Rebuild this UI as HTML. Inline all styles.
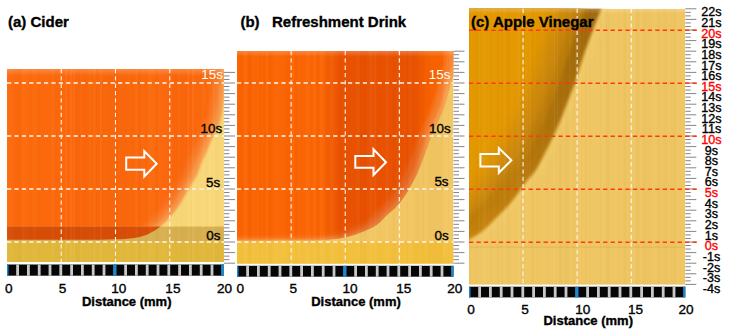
<!DOCTYPE html><html><head><meta charset="utf-8"><style>html,body{margin:0;padding:0;background:#fff;width:730px;height:333px;overflow:hidden}svg{display:block}text{font-family:"Liberation Sans",sans-serif}</style></head><body><svg width="730" height="333" viewBox="0 0 730 333"><defs><filter id="b07" x="-20%" y="-20%" width="140%" height="140%"><feGaussianBlur stdDeviation="0.7"/></filter><filter id="b15" x="-20%" y="-20%" width="140%" height="140%"><feGaussianBlur stdDeviation="1.5"/></filter><filter id="b8" x="-20%" y="-20%" width="140%" height="140%"><feGaussianBlur stdDeviation="8"/></filter><filter id="b2" x="-20%" y="-20%" width="140%" height="140%"><feGaussianBlur stdDeviation="2"/></filter><filter id="b1" x="-20%" y="-20%" width="140%" height="140%"><feGaussianBlur stdDeviation="1"/></filter><filter id="b3" x="-20%" y="-20%" width="140%" height="140%"><feGaussianBlur stdDeviation="3"/></filter><filter id="b5" x="-20%" y="-20%" width="140%" height="140%"><feGaussianBlur stdDeviation="5"/></filter><clipPath id="ca"><rect x="7" y="69" width="217" height="193"/></clipPath><clipPath id="cb"><rect x="237" y="51" width="216.5" height="212.75"/></clipPath><clipPath id="cc"><rect x="469" y="8.8" width="216.29999999999995" height="276.0"/></clipPath></defs><defs><clipPath id="oa"><path d="M225.00,90.00 C224.83,91.67 224.42,96.67 224.00,100.00 C223.58,103.33 223.17,106.33 222.50,110.00 C221.83,113.67 221.67,117.33 220.00,122.00 C218.33,126.67 214.75,133.00 212.50,138.00 C210.25,143.00 208.33,147.83 206.50,152.00 C204.67,156.17 203.25,158.83 201.50,163.00 C199.75,167.17 198.25,172.50 196.00,177.00 C193.75,181.50 190.67,185.50 188.00,190.00 C185.33,194.50 183.00,199.50 180.00,204.00 C177.00,208.50 173.00,213.50 170.00,217.00 C167.00,220.50 164.67,222.67 162.00,225.00 C159.33,227.33 157.17,229.17 154.00,231.00 C150.83,232.83 147.50,234.70 143.00,236.00 C138.50,237.30 134.17,238.18 127.00,238.80 C119.83,239.42 111.17,239.53 100.00,239.70 C88.83,239.87 75.50,239.78 60.00,239.80 C44.50,239.82 15.83,239.80 7.00,239.80 L0,239.8 L0,60 L230,60 Z"/></clipPath><linearGradient id="gda" gradientUnits="userSpaceOnUse" x1="7" y1="0" x2="224" y2="0"><stop offset="0" stop-color="#FFB070" stop-opacity="0.0"/><stop offset="0.2" stop-color="#FFB070" stop-opacity="0.0"/><stop offset="0.3" stop-color="#D84000" stop-opacity="0.0"/><stop offset="0.55" stop-color="#D84000" stop-opacity="0.08"/><stop offset="0.8" stop-color="#D84000" stop-opacity="0.03"/><stop offset="1" stop-color="#D84000" stop-opacity="0"/></linearGradient><linearGradient id="gtop" x1="0" y1="0" x2="0" y2="1"><stop offset="0" stop-color="#fff" stop-opacity="0.22"/><stop offset="1" stop-color="#fff" stop-opacity="0"/></linearGradient></defs><g clip-path="url(#ca)"><rect x="7" y="69" width="217" height="193" fill="#F8D878"/><path d="M225.00,90.00 C224.83,91.67 224.42,96.67 224.00,100.00 C223.58,103.33 223.17,106.33 222.50,110.00 C221.83,113.67 221.67,117.33 220.00,122.00 C218.33,126.67 214.75,133.00 212.50,138.00 C210.25,143.00 208.33,147.83 206.50,152.00 C204.67,156.17 203.25,158.83 201.50,163.00 C199.75,167.17 198.25,172.50 196.00,177.00 C193.75,181.50 190.67,185.50 188.00,190.00 C185.33,194.50 183.00,199.50 180.00,204.00 C177.00,208.50 173.00,213.50 170.00,217.00 C167.00,220.50 164.67,222.67 162.00,225.00 C159.33,227.33 157.17,229.17 154.00,231.00 C150.83,232.83 147.50,234.70 143.00,236.00 C138.50,237.30 134.17,238.18 127.00,238.80 C119.83,239.42 111.17,239.53 100.00,239.70 C88.83,239.87 75.50,239.78 60.00,239.80 C44.50,239.82 15.83,239.80 7.00,239.80 L0,239.8 L0,60 L230,60 Z" fill="#F9A050" filter="url(#b1)"/><g transform="translate(-5,-1.5)"><path d="M225.00,90.00 C224.83,91.67 224.42,96.67 224.00,100.00 C223.58,103.33 223.17,106.33 222.50,110.00 C221.83,113.67 221.67,117.33 220.00,122.00 C218.33,126.67 214.75,133.00 212.50,138.00 C210.25,143.00 208.33,147.83 206.50,152.00 C204.67,156.17 203.25,158.83 201.50,163.00 C199.75,167.17 198.25,172.50 196.00,177.00 C193.75,181.50 190.67,185.50 188.00,190.00 C185.33,194.50 183.00,199.50 180.00,204.00 C177.00,208.50 173.00,213.50 170.00,217.00 C167.00,220.50 164.67,222.67 162.00,225.00 C159.33,227.33 157.17,229.17 154.00,231.00 C150.83,232.83 147.50,234.70 143.00,236.00 C138.50,237.30 134.17,238.18 127.00,238.80 C119.83,239.42 111.17,239.53 100.00,239.70 C88.83,239.87 75.50,239.78 60.00,239.80 C44.50,239.82 15.83,239.80 7.00,239.80 L0,239.8 L0,60 L230,60 Z" fill="#F98434" filter="url(#b2)"/></g><g transform="translate(-11,-3)"><path d="M225.00,90.00 C224.83,91.67 224.42,96.67 224.00,100.00 C223.58,103.33 223.17,106.33 222.50,110.00 C221.83,113.67 221.67,117.33 220.00,122.00 C218.33,126.67 214.75,133.00 212.50,138.00 C210.25,143.00 208.33,147.83 206.50,152.00 C204.67,156.17 203.25,158.83 201.50,163.00 C199.75,167.17 198.25,172.50 196.00,177.00 C193.75,181.50 190.67,185.50 188.00,190.00 C185.33,194.50 183.00,199.50 180.00,204.00 C177.00,208.50 173.00,213.50 170.00,217.00 C167.00,220.50 164.67,222.67 162.00,225.00 C159.33,227.33 157.17,229.17 154.00,231.00 C150.83,232.83 147.50,234.70 143.00,236.00 C138.50,237.30 134.17,238.18 127.00,238.80 C119.83,239.42 111.17,239.53 100.00,239.70 C88.83,239.87 75.50,239.78 60.00,239.80 C44.50,239.82 15.83,239.80 7.00,239.80 L0,239.8 L0,60 L230,60 Z" fill="#FC6A10" filter="url(#b3)"/></g><g clip-path="url(#oa)"><g transform="translate(-11,-3)"><rect x="7" y="69" width="237" height="193" fill="url(#gda)" filter="url(#b3)"/></g></g><rect x="7" y="69" width="217" height="7" fill="url(#gtop)"/><rect x="7" y="226.6" width="217" height="14.6" fill="#D8B050"/><rect x="7" y="226.6" width="217" height="14.6" fill="#D84E08" clip-path="url(#oa)"/><rect x="7" y="241.2" width="217" height="20.80000000000001" fill="#E2B83C"/><rect x="7.0" y="69" width="1.5" height="193" fill="#fff" opacity="0.040"/><rect x="8.5" y="69" width="2" height="193" fill="#fff" opacity="0.014"/><rect x="10.5" y="69" width="1" height="193" fill="#fff" opacity="0.029"/><rect x="11.5" y="69" width="1" height="193" fill="#000" opacity="0.005"/><rect x="12.5" y="69" width="1" height="193" fill="#fff" opacity="0.037"/><rect x="13.5" y="69" width="1" height="193" fill="#000" opacity="0.017"/><rect x="14.5" y="69" width="2" height="193" fill="#000" opacity="0.003"/><rect x="16.5" y="69" width="1" height="193" fill="#000" opacity="0.015"/><rect x="17.5" y="69" width="2" height="193" fill="#000" opacity="0.016"/><rect x="19.5" y="69" width="2" height="193" fill="#000" opacity="0.014"/><rect x="21.5" y="69" width="1" height="193" fill="#fff" opacity="0.012"/><rect x="22.5" y="69" width="2" height="193" fill="#fff" opacity="0.040"/><rect x="24.5" y="69" width="2" height="193" fill="#fff" opacity="0.008"/><rect x="26.5" y="69" width="1" height="193" fill="#fff" opacity="0.043"/><rect x="27.5" y="69" width="1" height="193" fill="#fff" opacity="0.005"/><rect x="28.5" y="69" width="1" height="193" fill="#000" opacity="0.008"/><rect x="29.5" y="69" width="1" height="193" fill="#fff" opacity="0.004"/><rect x="30.5" y="69" width="2" height="193" fill="#000" opacity="0.007"/><rect x="32.5" y="69" width="4" height="193" fill="#fff" opacity="0.016"/><rect x="36.5" y="69" width="1" height="193" fill="#fff" opacity="0.007"/><rect x="37.5" y="69" width="3" height="193" fill="#000" opacity="0.011"/><rect x="40.5" y="69" width="1" height="193" fill="#fff" opacity="0.004"/><rect x="41.5" y="69" width="1" height="193" fill="#fff" opacity="0.006"/><rect x="42.5" y="69" width="2" height="193" fill="#000" opacity="0.011"/><rect x="44.5" y="69" width="3" height="193" fill="#fff" opacity="0.003"/><rect x="47.5" y="69" width="4" height="193" fill="#000" opacity="0.007"/><rect x="51.5" y="69" width="2" height="193" fill="#fff" opacity="0.038"/><rect x="53.5" y="69" width="1.5" height="193" fill="#000" opacity="0.007"/><rect x="55.0" y="69" width="4" height="193" fill="#000" opacity="0.012"/><rect x="59.0" y="69" width="4" height="193" fill="#000" opacity="0.009"/><rect x="63.0" y="69" width="2" height="193" fill="#000" opacity="0.007"/><rect x="65.0" y="69" width="2" height="193" fill="#fff" opacity="0.034"/><rect x="67.0" y="69" width="3" height="193" fill="#000" opacity="0.002"/><rect x="70.0" y="69" width="2" height="193" fill="#fff" opacity="0.043"/><rect x="72.0" y="69" width="1" height="193" fill="#fff" opacity="0.001"/><rect x="73.0" y="69" width="1" height="193" fill="#fff" opacity="0.023"/><rect x="74.0" y="69" width="1" height="193" fill="#fff" opacity="0.039"/><rect x="75.0" y="69" width="2" height="193" fill="#000" opacity="0.017"/><rect x="77.0" y="69" width="3" height="193" fill="#000" opacity="0.015"/><rect x="80.0" y="69" width="2" height="193" fill="#fff" opacity="0.007"/><rect x="82.0" y="69" width="4" height="193" fill="#000" opacity="0.007"/><rect x="86.0" y="69" width="3" height="193" fill="#000" opacity="0.005"/><rect x="89.0" y="69" width="2" height="193" fill="#fff" opacity="0.007"/><rect x="91.0" y="69" width="2" height="193" fill="#000" opacity="0.016"/><rect x="93.0" y="69" width="1" height="193" fill="#fff" opacity="0.040"/><rect x="94.0" y="69" width="2" height="193" fill="#fff" opacity="0.018"/><rect x="96.0" y="69" width="1" height="193" fill="#000" opacity="0.016"/><rect x="97.0" y="69" width="3" height="193" fill="#000" opacity="0.007"/><rect x="100.0" y="69" width="2" height="193" fill="#fff" opacity="0.044"/><rect x="102.0" y="69" width="4" height="193" fill="#000" opacity="0.002"/><rect x="106.0" y="69" width="3" height="193" fill="#000" opacity="0.004"/><rect x="109.0" y="69" width="3" height="193" fill="#000" opacity="0.006"/><rect x="112.0" y="69" width="2" height="193" fill="#000" opacity="0.005"/><rect x="114.0" y="69" width="2" height="193" fill="#000" opacity="0.014"/><rect x="116.0" y="69" width="1" height="193" fill="#000" opacity="0.010"/><rect x="117.0" y="69" width="1.5" height="193" fill="#000" opacity="0.013"/><rect x="118.5" y="69" width="1" height="193" fill="#000" opacity="0.004"/><rect x="119.5" y="69" width="4" height="193" fill="#000" opacity="0.000"/><rect x="123.5" y="69" width="1" height="193" fill="#000" opacity="0.002"/><rect x="124.5" y="69" width="2" height="193" fill="#000" opacity="0.008"/><rect x="126.5" y="69" width="1" height="193" fill="#fff" opacity="0.029"/><rect x="127.5" y="69" width="4" height="193" fill="#fff" opacity="0.005"/><rect x="131.5" y="69" width="3" height="193" fill="#000" opacity="0.003"/><rect x="134.5" y="69" width="1.5" height="193" fill="#fff" opacity="0.016"/><rect x="136.0" y="69" width="2" height="193" fill="#fff" opacity="0.041"/><rect x="138.0" y="69" width="1" height="193" fill="#000" opacity="0.015"/><rect x="139.0" y="69" width="1" height="193" fill="#000" opacity="0.010"/><rect x="140.0" y="69" width="1" height="193" fill="#000" opacity="0.018"/><rect x="141.0" y="69" width="4" height="193" fill="#fff" opacity="0.008"/><rect x="145.0" y="69" width="1.5" height="193" fill="#000" opacity="0.008"/><rect x="146.5" y="69" width="1" height="193" fill="#000" opacity="0.003"/><rect x="147.5" y="69" width="1.5" height="193" fill="#fff" opacity="0.010"/><rect x="149.0" y="69" width="1.5" height="193" fill="#fff" opacity="0.041"/><rect x="150.5" y="69" width="3" height="193" fill="#fff" opacity="0.032"/><rect x="153.5" y="69" width="2" height="193" fill="#fff" opacity="0.014"/><rect x="155.5" y="69" width="3" height="193" fill="#000" opacity="0.016"/><rect x="158.5" y="69" width="4" height="193" fill="#fff" opacity="0.025"/><rect x="162.5" y="69" width="4" height="193" fill="#fff" opacity="0.016"/><rect x="166.5" y="69" width="2" height="193" fill="#000" opacity="0.004"/><rect x="168.5" y="69" width="2" height="193" fill="#000" opacity="0.004"/><rect x="170.5" y="69" width="2" height="193" fill="#fff" opacity="0.012"/><rect x="172.5" y="69" width="1" height="193" fill="#000" opacity="0.011"/><rect x="173.5" y="69" width="1" height="193" fill="#000" opacity="0.002"/><rect x="174.5" y="69" width="1" height="193" fill="#000" opacity="0.006"/><rect x="175.5" y="69" width="1" height="193" fill="#000" opacity="0.014"/><rect x="176.5" y="69" width="2" height="193" fill="#000" opacity="0.013"/><rect x="178.5" y="69" width="1" height="193" fill="#fff" opacity="0.040"/><rect x="179.5" y="69" width="2" height="193" fill="#000" opacity="0.017"/><rect x="181.5" y="69" width="4" height="193" fill="#000" opacity="0.011"/><rect x="185.5" y="69" width="2" height="193" fill="#000" opacity="0.013"/><rect x="187.5" y="69" width="1.5" height="193" fill="#fff" opacity="0.041"/><rect x="189.0" y="69" width="2" height="193" fill="#000" opacity="0.005"/><rect x="191.0" y="69" width="1" height="193" fill="#000" opacity="0.014"/><rect x="192.0" y="69" width="2" height="193" fill="#fff" opacity="0.044"/><rect x="194.0" y="69" width="2" height="193" fill="#000" opacity="0.001"/><rect x="196.0" y="69" width="1.5" height="193" fill="#000" opacity="0.015"/><rect x="197.5" y="69" width="1" height="193" fill="#fff" opacity="0.022"/><rect x="198.5" y="69" width="3" height="193" fill="#000" opacity="0.008"/><rect x="201.5" y="69" width="4" height="193" fill="#fff" opacity="0.017"/><rect x="205.5" y="69" width="2" height="193" fill="#000" opacity="0.017"/><rect x="207.5" y="69" width="2" height="193" fill="#000" opacity="0.005"/><rect x="209.5" y="69" width="3" height="193" fill="#fff" opacity="0.004"/><rect x="212.5" y="69" width="1" height="193" fill="#fff" opacity="0.023"/><rect x="213.5" y="69" width="1.5" height="193" fill="#fff" opacity="0.043"/><rect x="215.0" y="69" width="4" height="193" fill="#000" opacity="0.015"/><rect x="219.0" y="69" width="4" height="193" fill="#000" opacity="0.009"/><rect x="223.0" y="69" width="1.5" height="193" fill="#fff" opacity="0.037"/></g><defs><clipPath id="ob"><path d="M456.00,70.00 C455.33,71.67 453.83,74.17 452.00,80.00 C450.17,85.83 447.33,98.00 445.00,105.00 C442.67,112.00 440.17,117.00 438.00,122.00 C435.83,127.00 433.75,130.83 432.00,135.00 C430.25,139.17 429.08,142.75 427.50,147.00 C425.92,151.25 424.25,156.00 422.50,160.50 C420.75,165.00 419.08,169.48 417.00,174.00 C414.92,178.52 412.50,183.27 410.00,187.60 C407.50,191.93 404.67,196.43 402.00,200.00 C399.33,203.57 396.67,206.33 394.00,209.00 C391.33,211.67 388.67,213.50 386.00,216.00 C383.33,218.50 381.33,221.58 378.00,224.00 C374.67,226.42 370.67,228.45 366.00,230.50 C361.33,232.55 355.50,234.83 350.00,236.30 C344.50,237.77 339.67,238.63 333.00,239.30 C326.33,239.97 326.00,240.12 310.00,240.30 C294.00,240.48 250.33,240.38 237.00,240.40 C223.67,240.42 231.17,240.40 230.00,240.40 L230,40 L460,40 Z"/></clipPath><linearGradient id="gdb" gradientUnits="userSpaceOnUse" x1="237" y1="0" x2="453.5" y2="0"><stop offset="0" stop-color="#C03000" stop-opacity="0"/><stop offset="0.44" stop-color="#C03000" stop-opacity="0"/><stop offset="0.53" stop-color="#C02800" stop-opacity="0.3"/><stop offset="0.86" stop-color="#C02800" stop-opacity="0.3"/><stop offset="0.95" stop-color="#C03000" stop-opacity="0"/></linearGradient></defs><g clip-path="url(#cb)"><rect x="237" y="51" width="216.5" height="212.75" fill="#F2C662"/><path d="M456.00,70.00 C455.33,71.67 453.83,74.17 452.00,80.00 C450.17,85.83 447.33,98.00 445.00,105.00 C442.67,112.00 440.17,117.00 438.00,122.00 C435.83,127.00 433.75,130.83 432.00,135.00 C430.25,139.17 429.08,142.75 427.50,147.00 C425.92,151.25 424.25,156.00 422.50,160.50 C420.75,165.00 419.08,169.48 417.00,174.00 C414.92,178.52 412.50,183.27 410.00,187.60 C407.50,191.93 404.67,196.43 402.00,200.00 C399.33,203.57 396.67,206.33 394.00,209.00 C391.33,211.67 388.67,213.50 386.00,216.00 C383.33,218.50 381.33,221.58 378.00,224.00 C374.67,226.42 370.67,228.45 366.00,230.50 C361.33,232.55 355.50,234.83 350.00,236.30 C344.50,237.77 339.67,238.63 333.00,239.30 C326.33,239.97 326.00,240.12 310.00,240.30 C294.00,240.48 250.33,240.38 237.00,240.40 C223.67,240.42 231.17,240.40 230.00,240.40 L230,40 L460,40 Z" fill="#F8A050" filter="url(#b07)"/><g transform="translate(-4,-1.2)"><path d="M456.00,70.00 C455.33,71.67 453.83,74.17 452.00,80.00 C450.17,85.83 447.33,98.00 445.00,105.00 C442.67,112.00 440.17,117.00 438.00,122.00 C435.83,127.00 433.75,130.83 432.00,135.00 C430.25,139.17 429.08,142.75 427.50,147.00 C425.92,151.25 424.25,156.00 422.50,160.50 C420.75,165.00 419.08,169.48 417.00,174.00 C414.92,178.52 412.50,183.27 410.00,187.60 C407.50,191.93 404.67,196.43 402.00,200.00 C399.33,203.57 396.67,206.33 394.00,209.00 C391.33,211.67 388.67,213.50 386.00,216.00 C383.33,218.50 381.33,221.58 378.00,224.00 C374.67,226.42 370.67,228.45 366.00,230.50 C361.33,232.55 355.50,234.83 350.00,236.30 C344.50,237.77 339.67,238.63 333.00,239.30 C326.33,239.97 326.00,240.12 310.00,240.30 C294.00,240.48 250.33,240.38 237.00,240.40 C223.67,240.42 231.17,240.40 230.00,240.40 L230,40 L460,40 Z" fill="#F8802E" filter="url(#b15)"/></g><g transform="translate(-11,-2.5)"><path d="M456.00,70.00 C455.33,71.67 453.83,74.17 452.00,80.00 C450.17,85.83 447.33,98.00 445.00,105.00 C442.67,112.00 440.17,117.00 438.00,122.00 C435.83,127.00 433.75,130.83 432.00,135.00 C430.25,139.17 429.08,142.75 427.50,147.00 C425.92,151.25 424.25,156.00 422.50,160.50 C420.75,165.00 419.08,169.48 417.00,174.00 C414.92,178.52 412.50,183.27 410.00,187.60 C407.50,191.93 404.67,196.43 402.00,200.00 C399.33,203.57 396.67,206.33 394.00,209.00 C391.33,211.67 388.67,213.50 386.00,216.00 C383.33,218.50 381.33,221.58 378.00,224.00 C374.67,226.42 370.67,228.45 366.00,230.50 C361.33,232.55 355.50,234.83 350.00,236.30 C344.50,237.77 339.67,238.63 333.00,239.30 C326.33,239.97 326.00,240.12 310.00,240.30 C294.00,240.48 250.33,240.38 237.00,240.40 C223.67,240.42 231.17,240.40 230.00,240.40 L230,40 L460,40 Z" fill="#FA6404" filter="url(#b2)"/></g><g clip-path="url(#ob)"><g transform="translate(-11,-2.5)"><rect x="237" y="51" width="236.5" height="212.75" fill="url(#gdb)"/></g></g><rect x="237" y="241.2" width="216.5" height="22.55000000000001" fill="#F3C03C"/><rect x="237" y="51" width="216.5" height="6" fill="url(#gtop)"/><rect x="237.0" y="51" width="1.5" height="212.75" fill="#fff" opacity="0.024"/><rect x="238.5" y="51" width="2" height="212.75" fill="#fff" opacity="0.004"/><rect x="240.5" y="51" width="2" height="212.75" fill="#000" opacity="0.006"/><rect x="242.5" y="51" width="1" height="212.75" fill="#fff" opacity="0.010"/><rect x="243.5" y="51" width="4" height="212.75" fill="#fff" opacity="0.044"/><rect x="247.5" y="51" width="4" height="212.75" fill="#000" opacity="0.011"/><rect x="251.5" y="51" width="1" height="212.75" fill="#fff" opacity="0.029"/><rect x="252.5" y="51" width="3" height="212.75" fill="#fff" opacity="0.027"/><rect x="255.5" y="51" width="1" height="212.75" fill="#fff" opacity="0.002"/><rect x="256.5" y="51" width="1.5" height="212.75" fill="#fff" opacity="0.021"/><rect x="258.0" y="51" width="1" height="212.75" fill="#fff" opacity="0.026"/><rect x="259.0" y="51" width="2" height="212.75" fill="#000" opacity="0.009"/><rect x="261.0" y="51" width="3" height="212.75" fill="#fff" opacity="0.009"/><rect x="264.0" y="51" width="1.5" height="212.75" fill="#000" opacity="0.002"/><rect x="265.5" y="51" width="3" height="212.75" fill="#fff" opacity="0.044"/><rect x="268.5" y="51" width="1.5" height="212.75" fill="#000" opacity="0.015"/><rect x="270.0" y="51" width="1" height="212.75" fill="#000" opacity="0.010"/><rect x="271.0" y="51" width="1" height="212.75" fill="#000" opacity="0.006"/><rect x="272.0" y="51" width="2" height="212.75" fill="#fff" opacity="0.011"/><rect x="274.0" y="51" width="2" height="212.75" fill="#fff" opacity="0.031"/><rect x="276.0" y="51" width="2" height="212.75" fill="#fff" opacity="0.037"/><rect x="278.0" y="51" width="1.5" height="212.75" fill="#fff" opacity="0.027"/><rect x="279.5" y="51" width="1" height="212.75" fill="#fff" opacity="0.030"/><rect x="280.5" y="51" width="1" height="212.75" fill="#fff" opacity="0.037"/><rect x="281.5" y="51" width="4" height="212.75" fill="#fff" opacity="0.019"/><rect x="285.5" y="51" width="1" height="212.75" fill="#000" opacity="0.001"/><rect x="286.5" y="51" width="1" height="212.75" fill="#000" opacity="0.002"/><rect x="287.5" y="51" width="3" height="212.75" fill="#000" opacity="0.006"/><rect x="290.5" y="51" width="4" height="212.75" fill="#fff" opacity="0.040"/><rect x="294.5" y="51" width="3" height="212.75" fill="#000" opacity="0.004"/><rect x="297.5" y="51" width="2" height="212.75" fill="#fff" opacity="0.022"/><rect x="299.5" y="51" width="1" height="212.75" fill="#fff" opacity="0.020"/><rect x="300.5" y="51" width="1" height="212.75" fill="#fff" opacity="0.044"/><rect x="301.5" y="51" width="1" height="212.75" fill="#000" opacity="0.013"/><rect x="302.5" y="51" width="2" height="212.75" fill="#fff" opacity="0.028"/><rect x="304.5" y="51" width="1" height="212.75" fill="#fff" opacity="0.010"/><rect x="305.5" y="51" width="2" height="212.75" fill="#fff" opacity="0.043"/><rect x="307.5" y="51" width="3" height="212.75" fill="#fff" opacity="0.039"/><rect x="310.5" y="51" width="1" height="212.75" fill="#fff" opacity="0.004"/><rect x="311.5" y="51" width="1" height="212.75" fill="#000" opacity="0.017"/><rect x="312.5" y="51" width="4" height="212.75" fill="#fff" opacity="0.042"/><rect x="316.5" y="51" width="3" height="212.75" fill="#000" opacity="0.014"/><rect x="319.5" y="51" width="3" height="212.75" fill="#fff" opacity="0.039"/><rect x="322.5" y="51" width="2" height="212.75" fill="#fff" opacity="0.044"/><rect x="324.5" y="51" width="1" height="212.75" fill="#fff" opacity="0.029"/><rect x="325.5" y="51" width="1" height="212.75" fill="#000" opacity="0.017"/><rect x="326.5" y="51" width="1" height="212.75" fill="#000" opacity="0.007"/><rect x="327.5" y="51" width="1" height="212.75" fill="#fff" opacity="0.024"/><rect x="328.5" y="51" width="1.5" height="212.75" fill="#000" opacity="0.009"/><rect x="330.0" y="51" width="2" height="212.75" fill="#fff" opacity="0.030"/><rect x="332.0" y="51" width="1" height="212.75" fill="#fff" opacity="0.037"/><rect x="333.0" y="51" width="1.5" height="212.75" fill="#fff" opacity="0.036"/><rect x="334.5" y="51" width="3" height="212.75" fill="#fff" opacity="0.008"/><rect x="337.5" y="51" width="2" height="212.75" fill="#000" opacity="0.003"/><rect x="339.5" y="51" width="2" height="212.75" fill="#000" opacity="0.013"/><rect x="341.5" y="51" width="1" height="212.75" fill="#fff" opacity="0.002"/><rect x="342.5" y="51" width="1" height="212.75" fill="#fff" opacity="0.034"/><rect x="343.5" y="51" width="4" height="212.75" fill="#000" opacity="0.011"/><rect x="347.5" y="51" width="1" height="212.75" fill="#fff" opacity="0.025"/><rect x="348.5" y="51" width="1" height="212.75" fill="#000" opacity="0.012"/><rect x="349.5" y="51" width="2" height="212.75" fill="#fff" opacity="0.011"/><rect x="351.5" y="51" width="1" height="212.75" fill="#fff" opacity="0.005"/><rect x="352.5" y="51" width="1.5" height="212.75" fill="#fff" opacity="0.016"/><rect x="354.0" y="51" width="2" height="212.75" fill="#fff" opacity="0.005"/><rect x="356.0" y="51" width="4" height="212.75" fill="#fff" opacity="0.025"/><rect x="360.0" y="51" width="2" height="212.75" fill="#000" opacity="0.016"/><rect x="362.0" y="51" width="1" height="212.75" fill="#000" opacity="0.008"/><rect x="363.0" y="51" width="4" height="212.75" fill="#000" opacity="0.014"/><rect x="367.0" y="51" width="2" height="212.75" fill="#fff" opacity="0.006"/><rect x="369.0" y="51" width="4" height="212.75" fill="#fff" opacity="0.035"/><rect x="373.0" y="51" width="1" height="212.75" fill="#000" opacity="0.002"/><rect x="374.0" y="51" width="2" height="212.75" fill="#fff" opacity="0.043"/><rect x="376.0" y="51" width="2" height="212.75" fill="#fff" opacity="0.001"/><rect x="378.0" y="51" width="3" height="212.75" fill="#000" opacity="0.008"/><rect x="381.0" y="51" width="2" height="212.75" fill="#fff" opacity="0.003"/><rect x="383.0" y="51" width="2" height="212.75" fill="#fff" opacity="0.001"/><rect x="385.0" y="51" width="1" height="212.75" fill="#fff" opacity="0.018"/><rect x="386.0" y="51" width="1.5" height="212.75" fill="#fff" opacity="0.038"/><rect x="387.5" y="51" width="1" height="212.75" fill="#fff" opacity="0.031"/><rect x="388.5" y="51" width="1" height="212.75" fill="#000" opacity="0.003"/><rect x="389.5" y="51" width="2" height="212.75" fill="#000" opacity="0.002"/><rect x="391.5" y="51" width="1" height="212.75" fill="#fff" opacity="0.015"/><rect x="392.5" y="51" width="2" height="212.75" fill="#000" opacity="0.015"/><rect x="394.5" y="51" width="3" height="212.75" fill="#000" opacity="0.007"/><rect x="397.5" y="51" width="1" height="212.75" fill="#fff" opacity="0.036"/><rect x="398.5" y="51" width="1" height="212.75" fill="#fff" opacity="0.040"/><rect x="399.5" y="51" width="3" height="212.75" fill="#fff" opacity="0.014"/><rect x="402.5" y="51" width="1" height="212.75" fill="#000" opacity="0.009"/><rect x="403.5" y="51" width="1" height="212.75" fill="#fff" opacity="0.042"/><rect x="404.5" y="51" width="1" height="212.75" fill="#fff" opacity="0.022"/><rect x="405.5" y="51" width="1" height="212.75" fill="#000" opacity="0.004"/><rect x="406.5" y="51" width="2" height="212.75" fill="#000" opacity="0.012"/><rect x="408.5" y="51" width="3" height="212.75" fill="#fff" opacity="0.030"/><rect x="411.5" y="51" width="1" height="212.75" fill="#fff" opacity="0.019"/><rect x="412.5" y="51" width="2" height="212.75" fill="#000" opacity="0.003"/><rect x="414.5" y="51" width="2" height="212.75" fill="#000" opacity="0.011"/><rect x="416.5" y="51" width="1.5" height="212.75" fill="#000" opacity="0.015"/><rect x="418.0" y="51" width="1.5" height="212.75" fill="#000" opacity="0.017"/><rect x="419.5" y="51" width="2" height="212.75" fill="#000" opacity="0.001"/><rect x="421.5" y="51" width="3" height="212.75" fill="#000" opacity="0.017"/><rect x="424.5" y="51" width="1.5" height="212.75" fill="#fff" opacity="0.002"/><rect x="426.0" y="51" width="1.5" height="212.75" fill="#fff" opacity="0.001"/><rect x="427.5" y="51" width="1" height="212.75" fill="#000" opacity="0.014"/><rect x="428.5" y="51" width="4" height="212.75" fill="#000" opacity="0.010"/><rect x="432.5" y="51" width="1" height="212.75" fill="#000" opacity="0.015"/><rect x="433.5" y="51" width="1.5" height="212.75" fill="#000" opacity="0.017"/><rect x="435.0" y="51" width="4" height="212.75" fill="#000" opacity="0.011"/><rect x="439.0" y="51" width="4" height="212.75" fill="#000" opacity="0.013"/><rect x="443.0" y="51" width="2" height="212.75" fill="#fff" opacity="0.031"/><rect x="445.0" y="51" width="3" height="212.75" fill="#fff" opacity="0.029"/><rect x="448.0" y="51" width="1.5" height="212.75" fill="#000" opacity="0.003"/><rect x="449.5" y="51" width="2" height="212.75" fill="#fff" opacity="0.038"/><rect x="451.5" y="51" width="2" height="212.75" fill="#000" opacity="0.000"/></g><defs><linearGradient id="gdc" gradientUnits="userSpaceOnUse" x1="0" y1="9" x2="0" y2="240"><stop offset="0" stop-color="#A06808"/><stop offset="0.55" stop-color="#B07408"/><stop offset="1" stop-color="#C88408"/></linearGradient></defs><g clip-path="url(#cc)"><rect x="469" y="8.8" width="216.29999999999995" height="276.0" fill="#EFC662"/><g transform="translate(4,1.2)"><path d="M612.00,-30.00 C610.50,-25.00 604.83,-6.50 603.00,0.00 C601.17,6.50 602.67,4.00 601.00,9.00 C599.33,14.00 595.92,22.17 593.00,30.00 C590.08,37.83 586.50,47.17 583.50,56.00 C580.50,64.83 577.33,76.17 575.00,83.00 C572.67,89.83 571.25,92.50 569.50,97.00 C567.75,101.50 566.25,105.50 564.50,110.00 C562.75,114.50 560.92,119.50 559.00,124.00 C557.08,128.50 555.08,132.67 553.00,137.00 C550.92,141.33 549.33,144.50 546.50,150.00 C543.67,155.50 539.42,164.67 536.00,170.00 C532.58,175.33 529.07,178.00 526.00,182.00 C522.93,186.00 520.60,190.00 517.60,194.00 C514.60,198.00 511.60,202.00 508.00,206.00 C504.40,210.00 500.00,214.00 496.00,218.00 C492.00,222.00 487.83,226.78 484.00,230.00 C480.17,233.22 475.50,235.72 473.00,237.30 C470.50,238.88 471.17,238.97 469.00,239.50 C466.83,240.03 461.50,240.33 460.00,240.50 L440,241 L440,-40 L612,-40 Z" fill="#F2CC6C" filter="url(#b3)"/></g><path d="M612.00,-30.00 C610.50,-25.00 604.83,-6.50 603.00,0.00 C601.17,6.50 602.67,4.00 601.00,9.00 C599.33,14.00 595.92,22.17 593.00,30.00 C590.08,37.83 586.50,47.17 583.50,56.00 C580.50,64.83 577.33,76.17 575.00,83.00 C572.67,89.83 571.25,92.50 569.50,97.00 C567.75,101.50 566.25,105.50 564.50,110.00 C562.75,114.50 560.92,119.50 559.00,124.00 C557.08,128.50 555.08,132.67 553.00,137.00 C550.92,141.33 549.33,144.50 546.50,150.00 C543.67,155.50 539.42,164.67 536.00,170.00 C532.58,175.33 529.07,178.00 526.00,182.00 C522.93,186.00 520.60,190.00 517.60,194.00 C514.60,198.00 511.60,202.00 508.00,206.00 C504.40,210.00 500.00,214.00 496.00,218.00 C492.00,222.00 487.83,226.78 484.00,230.00 C480.17,233.22 475.50,235.72 473.00,237.30 C470.50,238.88 471.17,238.97 469.00,239.50 C466.83,240.03 461.50,240.33 460.00,240.50 L440,241 L440,-40 L612,-40 Z" fill="url(#gdc)" filter="url(#b15)"/><g transform="translate(-14,-4)"><path d="M612.00,-30.00 C610.50,-25.00 604.83,-6.50 603.00,0.00 C601.17,6.50 602.67,4.00 601.00,9.00 C599.33,14.00 595.92,22.17 593.00,30.00 C590.08,37.83 586.50,47.17 583.50,56.00 C580.50,64.83 577.33,76.17 575.00,83.00 C572.67,89.83 571.25,92.50 569.50,97.00 C567.75,101.50 566.25,105.50 564.50,110.00 C562.75,114.50 560.92,119.50 559.00,124.00 C557.08,128.50 555.08,132.67 553.00,137.00 C550.92,141.33 549.33,144.50 546.50,150.00 C543.67,155.50 539.42,164.67 536.00,170.00 C532.58,175.33 529.07,178.00 526.00,182.00 C522.93,186.00 520.60,190.00 517.60,194.00 C514.60,198.00 511.60,202.00 508.00,206.00 C504.40,210.00 500.00,214.00 496.00,218.00 C492.00,222.00 487.83,226.78 484.00,230.00 C480.17,233.22 475.50,235.72 473.00,237.30 C470.50,238.88 471.17,238.97 469.00,239.50 C466.83,240.03 461.50,240.33 460.00,240.50 L440,241 L440,-40 L612,-40 Z" fill="#BA7C0A" filter="url(#b2)"/></g><g transform="translate(-22,-6)"><path d="M612.00,-30.00 C610.50,-25.00 604.83,-6.50 603.00,0.00 C601.17,6.50 602.67,4.00 601.00,9.00 C599.33,14.00 595.92,22.17 593.00,30.00 C590.08,37.83 586.50,47.17 583.50,56.00 C580.50,64.83 577.33,76.17 575.00,83.00 C572.67,89.83 571.25,92.50 569.50,97.00 C567.75,101.50 566.25,105.50 564.50,110.00 C562.75,114.50 560.92,119.50 559.00,124.00 C557.08,128.50 555.08,132.67 553.00,137.00 C550.92,141.33 549.33,144.50 546.50,150.00 C543.67,155.50 539.42,164.67 536.00,170.00 C532.58,175.33 529.07,178.00 526.00,182.00 C522.93,186.00 520.60,190.00 517.60,194.00 C514.60,198.00 511.60,202.00 508.00,206.00 C504.40,210.00 500.00,214.00 496.00,218.00 C492.00,222.00 487.83,226.78 484.00,230.00 C480.17,233.22 475.50,235.72 473.00,237.30 C470.50,238.88 471.17,238.97 469.00,239.50 C466.83,240.03 461.50,240.33 460.00,240.50 L440,241 L440,-40 L612,-40 Z" fill="#CC880A" filter="url(#b5)"/></g><g transform="translate(-38,-11)"><path d="M612.00,-30.00 C610.50,-25.00 604.83,-6.50 603.00,0.00 C601.17,6.50 602.67,4.00 601.00,9.00 C599.33,14.00 595.92,22.17 593.00,30.00 C590.08,37.83 586.50,47.17 583.50,56.00 C580.50,64.83 577.33,76.17 575.00,83.00 C572.67,89.83 571.25,92.50 569.50,97.00 C567.75,101.50 566.25,105.50 564.50,110.00 C562.75,114.50 560.92,119.50 559.00,124.00 C557.08,128.50 555.08,132.67 553.00,137.00 C550.92,141.33 549.33,144.50 546.50,150.00 C543.67,155.50 539.42,164.67 536.00,170.00 C532.58,175.33 529.07,178.00 526.00,182.00 C522.93,186.00 520.60,190.00 517.60,194.00 C514.60,198.00 511.60,202.00 508.00,206.00 C504.40,210.00 500.00,214.00 496.00,218.00 C492.00,222.00 487.83,226.78 484.00,230.00 C480.17,233.22 475.50,235.72 473.00,237.30 C470.50,238.88 471.17,238.97 469.00,239.50 C466.83,240.03 461.50,240.33 460.00,240.50 L440,241 L440,-40 L612,-40 Z" fill="#E49806" filter="url(#b8)"/></g><rect x="469" y="246.6" width="216.29999999999995" height="1" fill="#B89838" opacity="0.3"/><rect x="469" y="8.8" width="216.29999999999995" height="5" fill="url(#gtop)"/><rect x="469.0" y="8.8" width="1.5" height="276.0" fill="#000" opacity="0.015"/><rect x="470.5" y="8.8" width="1" height="276.0" fill="#fff" opacity="0.027"/><rect x="471.5" y="8.8" width="1" height="276.0" fill="#000" opacity="0.003"/><rect x="472.5" y="8.8" width="1" height="276.0" fill="#000" opacity="0.008"/><rect x="473.5" y="8.8" width="1" height="276.0" fill="#fff" opacity="0.012"/><rect x="474.5" y="8.8" width="4" height="276.0" fill="#000" opacity="0.009"/><rect x="478.5" y="8.8" width="2" height="276.0" fill="#fff" opacity="0.032"/><rect x="480.5" y="8.8" width="1" height="276.0" fill="#000" opacity="0.008"/><rect x="481.5" y="8.8" width="1" height="276.0" fill="#000" opacity="0.002"/><rect x="482.5" y="8.8" width="1.5" height="276.0" fill="#fff" opacity="0.044"/><rect x="484.0" y="8.8" width="2" height="276.0" fill="#fff" opacity="0.038"/><rect x="486.0" y="8.8" width="1.5" height="276.0" fill="#fff" opacity="0.011"/><rect x="487.5" y="8.8" width="1" height="276.0" fill="#fff" opacity="0.002"/><rect x="488.5" y="8.8" width="1" height="276.0" fill="#fff" opacity="0.039"/><rect x="489.5" y="8.8" width="1" height="276.0" fill="#000" opacity="0.009"/><rect x="490.5" y="8.8" width="1" height="276.0" fill="#000" opacity="0.011"/><rect x="491.5" y="8.8" width="1.5" height="276.0" fill="#fff" opacity="0.012"/><rect x="493.0" y="8.8" width="2" height="276.0" fill="#fff" opacity="0.023"/><rect x="495.0" y="8.8" width="1.5" height="276.0" fill="#000" opacity="0.002"/><rect x="496.5" y="8.8" width="3" height="276.0" fill="#000" opacity="0.012"/><rect x="499.5" y="8.8" width="1.5" height="276.0" fill="#fff" opacity="0.027"/><rect x="501.0" y="8.8" width="1.5" height="276.0" fill="#000" opacity="0.017"/><rect x="502.5" y="8.8" width="1" height="276.0" fill="#fff" opacity="0.021"/><rect x="503.5" y="8.8" width="2" height="276.0" fill="#fff" opacity="0.043"/><rect x="505.5" y="8.8" width="2" height="276.0" fill="#000" opacity="0.001"/><rect x="507.5" y="8.8" width="2" height="276.0" fill="#000" opacity="0.014"/><rect x="509.5" y="8.8" width="4" height="276.0" fill="#fff" opacity="0.014"/><rect x="513.5" y="8.8" width="3" height="276.0" fill="#000" opacity="0.000"/><rect x="516.5" y="8.8" width="4" height="276.0" fill="#fff" opacity="0.035"/><rect x="520.5" y="8.8" width="2" height="276.0" fill="#000" opacity="0.007"/><rect x="522.5" y="8.8" width="1" height="276.0" fill="#fff" opacity="0.043"/><rect x="523.5" y="8.8" width="1.5" height="276.0" fill="#000" opacity="0.011"/><rect x="525.0" y="8.8" width="3" height="276.0" fill="#fff" opacity="0.021"/><rect x="528.0" y="8.8" width="1" height="276.0" fill="#000" opacity="0.003"/><rect x="529.0" y="8.8" width="1.5" height="276.0" fill="#fff" opacity="0.043"/><rect x="530.5" y="8.8" width="4" height="276.0" fill="#000" opacity="0.013"/><rect x="534.5" y="8.8" width="1" height="276.0" fill="#fff" opacity="0.011"/><rect x="535.5" y="8.8" width="1.5" height="276.0" fill="#000" opacity="0.002"/><rect x="537.0" y="8.8" width="1" height="276.0" fill="#000" opacity="0.015"/><rect x="538.0" y="8.8" width="4" height="276.0" fill="#000" opacity="0.004"/><rect x="542.0" y="8.8" width="2" height="276.0" fill="#fff" opacity="0.015"/><rect x="544.0" y="8.8" width="1.5" height="276.0" fill="#fff" opacity="0.009"/><rect x="545.5" y="8.8" width="3" height="276.0" fill="#000" opacity="0.007"/><rect x="548.5" y="8.8" width="2" height="276.0" fill="#000" opacity="0.011"/><rect x="550.5" y="8.8" width="1.5" height="276.0" fill="#000" opacity="0.002"/><rect x="552.0" y="8.8" width="1.5" height="276.0" fill="#000" opacity="0.005"/><rect x="553.5" y="8.8" width="1.5" height="276.0" fill="#fff" opacity="0.043"/><rect x="555.0" y="8.8" width="2" height="276.0" fill="#000" opacity="0.006"/><rect x="557.0" y="8.8" width="1" height="276.0" fill="#fff" opacity="0.042"/><rect x="558.0" y="8.8" width="1.5" height="276.0" fill="#000" opacity="0.010"/><rect x="559.5" y="8.8" width="1" height="276.0" fill="#000" opacity="0.018"/><rect x="560.5" y="8.8" width="2" height="276.0" fill="#000" opacity="0.015"/><rect x="562.5" y="8.8" width="1.5" height="276.0" fill="#fff" opacity="0.000"/><rect x="564.0" y="8.8" width="1" height="276.0" fill="#000" opacity="0.009"/><rect x="565.0" y="8.8" width="4" height="276.0" fill="#000" opacity="0.018"/><rect x="569.0" y="8.8" width="1.5" height="276.0" fill="#fff" opacity="0.029"/><rect x="570.5" y="8.8" width="1" height="276.0" fill="#000" opacity="0.004"/><rect x="571.5" y="8.8" width="1" height="276.0" fill="#000" opacity="0.004"/><rect x="572.5" y="8.8" width="1.5" height="276.0" fill="#000" opacity="0.007"/><rect x="574.0" y="8.8" width="1" height="276.0" fill="#000" opacity="0.015"/><rect x="575.0" y="8.8" width="2" height="276.0" fill="#fff" opacity="0.032"/><rect x="577.0" y="8.8" width="1" height="276.0" fill="#fff" opacity="0.014"/><rect x="578.0" y="8.8" width="3" height="276.0" fill="#fff" opacity="0.026"/><rect x="581.0" y="8.8" width="2" height="276.0" fill="#000" opacity="0.004"/><rect x="583.0" y="8.8" width="1.5" height="276.0" fill="#fff" opacity="0.020"/><rect x="584.5" y="8.8" width="2" height="276.0" fill="#000" opacity="0.013"/><rect x="586.5" y="8.8" width="3" height="276.0" fill="#fff" opacity="0.011"/><rect x="589.5" y="8.8" width="1" height="276.0" fill="#000" opacity="0.016"/><rect x="590.5" y="8.8" width="4" height="276.0" fill="#fff" opacity="0.019"/><rect x="594.5" y="8.8" width="2" height="276.0" fill="#fff" opacity="0.011"/><rect x="596.5" y="8.8" width="3" height="276.0" fill="#fff" opacity="0.018"/><rect x="599.5" y="8.8" width="2" height="276.0" fill="#000" opacity="0.013"/><rect x="601.5" y="8.8" width="2" height="276.0" fill="#fff" opacity="0.023"/><rect x="603.5" y="8.8" width="2" height="276.0" fill="#fff" opacity="0.030"/><rect x="605.5" y="8.8" width="4" height="276.0" fill="#000" opacity="0.017"/><rect x="609.5" y="8.8" width="3" height="276.0" fill="#fff" opacity="0.008"/><rect x="612.5" y="8.8" width="3" height="276.0" fill="#fff" opacity="0.016"/><rect x="615.5" y="8.8" width="3" height="276.0" fill="#fff" opacity="0.013"/><rect x="618.5" y="8.8" width="1" height="276.0" fill="#000" opacity="0.017"/><rect x="619.5" y="8.8" width="1" height="276.0" fill="#fff" opacity="0.012"/><rect x="620.5" y="8.8" width="1" height="276.0" fill="#000" opacity="0.004"/><rect x="621.5" y="8.8" width="2" height="276.0" fill="#fff" opacity="0.005"/><rect x="623.5" y="8.8" width="3" height="276.0" fill="#000" opacity="0.017"/><rect x="626.5" y="8.8" width="2" height="276.0" fill="#fff" opacity="0.016"/><rect x="628.5" y="8.8" width="2" height="276.0" fill="#000" opacity="0.009"/><rect x="630.5" y="8.8" width="2" height="276.0" fill="#fff" opacity="0.027"/><rect x="632.5" y="8.8" width="3" height="276.0" fill="#fff" opacity="0.039"/><rect x="635.5" y="8.8" width="2" height="276.0" fill="#000" opacity="0.015"/><rect x="637.5" y="8.8" width="2" height="276.0" fill="#000" opacity="0.016"/><rect x="639.5" y="8.8" width="3" height="276.0" fill="#000" opacity="0.001"/><rect x="642.5" y="8.8" width="4" height="276.0" fill="#000" opacity="0.015"/><rect x="646.5" y="8.8" width="1.5" height="276.0" fill="#000" opacity="0.010"/><rect x="648.0" y="8.8" width="4" height="276.0" fill="#000" opacity="0.011"/><rect x="652.0" y="8.8" width="3" height="276.0" fill="#fff" opacity="0.013"/><rect x="655.0" y="8.8" width="2" height="276.0" fill="#000" opacity="0.000"/><rect x="657.0" y="8.8" width="2" height="276.0" fill="#000" opacity="0.015"/><rect x="659.0" y="8.8" width="3" height="276.0" fill="#000" opacity="0.008"/><rect x="662.0" y="8.8" width="1" height="276.0" fill="#fff" opacity="0.011"/><rect x="663.0" y="8.8" width="3" height="276.0" fill="#000" opacity="0.011"/><rect x="666.0" y="8.8" width="2" height="276.0" fill="#000" opacity="0.013"/><rect x="668.0" y="8.8" width="1.5" height="276.0" fill="#fff" opacity="0.014"/><rect x="669.5" y="8.8" width="3" height="276.0" fill="#000" opacity="0.007"/><rect x="672.5" y="8.8" width="2" height="276.0" fill="#000" opacity="0.013"/><rect x="674.5" y="8.8" width="2" height="276.0" fill="#000" opacity="0.016"/><rect x="676.5" y="8.8" width="1.5" height="276.0" fill="#fff" opacity="0.043"/><rect x="678.0" y="8.8" width="1" height="276.0" fill="#fff" opacity="0.017"/><rect x="679.0" y="8.8" width="3" height="276.0" fill="#000" opacity="0.000"/><rect x="682.0" y="8.8" width="3" height="276.0" fill="#fff" opacity="0.001"/><rect x="685.0" y="8.8" width="2" height="276.0" fill="#000" opacity="0.001"/></g><line x1="224" y1="263.20" x2="235" y2="263.20" stroke="#777" stroke-width="0.9"/><line x1="224" y1="259.67" x2="229.5" y2="259.67" stroke="#777" stroke-width="0.9"/><line x1="224" y1="256.13" x2="229.5" y2="256.13" stroke="#777" stroke-width="0.9"/><line x1="224" y1="252.60" x2="235" y2="252.60" stroke="#777" stroke-width="0.9"/><line x1="224" y1="249.07" x2="229.5" y2="249.07" stroke="#777" stroke-width="0.9"/><line x1="224" y1="245.53" x2="229.5" y2="245.53" stroke="#777" stroke-width="0.9"/><line x1="224" y1="242.00" x2="235" y2="242.00" stroke="#777" stroke-width="0.9"/><line x1="224" y1="238.47" x2="229.5" y2="238.47" stroke="#777" stroke-width="0.9"/><line x1="224" y1="234.93" x2="229.5" y2="234.93" stroke="#777" stroke-width="0.9"/><line x1="224" y1="231.40" x2="235" y2="231.40" stroke="#777" stroke-width="0.9"/><line x1="224" y1="227.87" x2="229.5" y2="227.87" stroke="#777" stroke-width="0.9"/><line x1="224" y1="224.33" x2="229.5" y2="224.33" stroke="#777" stroke-width="0.9"/><line x1="224" y1="220.80" x2="235" y2="220.80" stroke="#777" stroke-width="0.9"/><line x1="224" y1="217.27" x2="229.5" y2="217.27" stroke="#777" stroke-width="0.9"/><line x1="224" y1="213.73" x2="229.5" y2="213.73" stroke="#777" stroke-width="0.9"/><line x1="224" y1="210.20" x2="235" y2="210.20" stroke="#777" stroke-width="0.9"/><line x1="224" y1="206.67" x2="229.5" y2="206.67" stroke="#777" stroke-width="0.9"/><line x1="224" y1="203.13" x2="229.5" y2="203.13" stroke="#777" stroke-width="0.9"/><line x1="224" y1="199.60" x2="235" y2="199.60" stroke="#777" stroke-width="0.9"/><line x1="224" y1="196.07" x2="229.5" y2="196.07" stroke="#777" stroke-width="0.9"/><line x1="224" y1="192.53" x2="229.5" y2="192.53" stroke="#777" stroke-width="0.9"/><line x1="224" y1="189.00" x2="235" y2="189.00" stroke="#777" stroke-width="0.9"/><line x1="224" y1="185.47" x2="229.5" y2="185.47" stroke="#777" stroke-width="0.9"/><line x1="224" y1="181.93" x2="229.5" y2="181.93" stroke="#777" stroke-width="0.9"/><line x1="224" y1="178.40" x2="235" y2="178.40" stroke="#777" stroke-width="0.9"/><line x1="224" y1="174.87" x2="229.5" y2="174.87" stroke="#777" stroke-width="0.9"/><line x1="224" y1="171.33" x2="229.5" y2="171.33" stroke="#777" stroke-width="0.9"/><line x1="224" y1="167.80" x2="235" y2="167.80" stroke="#777" stroke-width="0.9"/><line x1="224" y1="164.27" x2="229.5" y2="164.27" stroke="#777" stroke-width="0.9"/><line x1="224" y1="160.73" x2="229.5" y2="160.73" stroke="#777" stroke-width="0.9"/><line x1="224" y1="157.20" x2="235" y2="157.20" stroke="#777" stroke-width="0.9"/><line x1="224" y1="153.67" x2="229.5" y2="153.67" stroke="#777" stroke-width="0.9"/><line x1="224" y1="150.13" x2="229.5" y2="150.13" stroke="#777" stroke-width="0.9"/><line x1="224" y1="146.60" x2="235" y2="146.60" stroke="#777" stroke-width="0.9"/><line x1="224" y1="143.07" x2="229.5" y2="143.07" stroke="#777" stroke-width="0.9"/><line x1="224" y1="139.53" x2="229.5" y2="139.53" stroke="#777" stroke-width="0.9"/><line x1="224" y1="136.00" x2="235" y2="136.00" stroke="#777" stroke-width="0.9"/><line x1="224" y1="132.47" x2="229.5" y2="132.47" stroke="#777" stroke-width="0.9"/><line x1="224" y1="128.93" x2="229.5" y2="128.93" stroke="#777" stroke-width="0.9"/><line x1="224" y1="125.40" x2="235" y2="125.40" stroke="#777" stroke-width="0.9"/><line x1="224" y1="121.87" x2="229.5" y2="121.87" stroke="#777" stroke-width="0.9"/><line x1="224" y1="118.33" x2="229.5" y2="118.33" stroke="#777" stroke-width="0.9"/><line x1="224" y1="114.80" x2="235" y2="114.80" stroke="#777" stroke-width="0.9"/><line x1="224" y1="111.27" x2="229.5" y2="111.27" stroke="#777" stroke-width="0.9"/><line x1="224" y1="107.73" x2="229.5" y2="107.73" stroke="#777" stroke-width="0.9"/><line x1="224" y1="104.20" x2="235" y2="104.20" stroke="#777" stroke-width="0.9"/><line x1="224" y1="100.67" x2="229.5" y2="100.67" stroke="#777" stroke-width="0.9"/><line x1="224" y1="97.13" x2="229.5" y2="97.13" stroke="#777" stroke-width="0.9"/><line x1="224" y1="93.60" x2="235" y2="93.60" stroke="#777" stroke-width="0.9"/><line x1="224" y1="90.07" x2="229.5" y2="90.07" stroke="#777" stroke-width="0.9"/><line x1="224" y1="86.53" x2="229.5" y2="86.53" stroke="#777" stroke-width="0.9"/><line x1="224" y1="83.00" x2="235" y2="83.00" stroke="#777" stroke-width="0.9"/><line x1="224" y1="79.47" x2="229.5" y2="79.47" stroke="#777" stroke-width="0.9"/><line x1="224" y1="75.93" x2="229.5" y2="75.93" stroke="#777" stroke-width="0.9"/><line x1="224" y1="72.40" x2="235" y2="72.40" stroke="#777" stroke-width="0.9"/><line x1="453.5" y1="263.20" x2="464.5" y2="263.20" stroke="#777" stroke-width="0.9"/><line x1="453.5" y1="259.67" x2="459.0" y2="259.67" stroke="#777" stroke-width="0.9"/><line x1="453.5" y1="256.13" x2="459.0" y2="256.13" stroke="#777" stroke-width="0.9"/><line x1="453.5" y1="252.60" x2="464.5" y2="252.60" stroke="#777" stroke-width="0.9"/><line x1="453.5" y1="249.07" x2="459.0" y2="249.07" stroke="#777" stroke-width="0.9"/><line x1="453.5" y1="245.53" x2="459.0" y2="245.53" stroke="#777" stroke-width="0.9"/><line x1="453.5" y1="242.00" x2="464.5" y2="242.00" stroke="#777" stroke-width="0.9"/><line x1="453.5" y1="238.47" x2="459.0" y2="238.47" stroke="#777" stroke-width="0.9"/><line x1="453.5" y1="234.93" x2="459.0" y2="234.93" stroke="#777" stroke-width="0.9"/><line x1="453.5" y1="231.40" x2="464.5" y2="231.40" stroke="#777" stroke-width="0.9"/><line x1="453.5" y1="227.87" x2="459.0" y2="227.87" stroke="#777" stroke-width="0.9"/><line x1="453.5" y1="224.33" x2="459.0" y2="224.33" stroke="#777" stroke-width="0.9"/><line x1="453.5" y1="220.80" x2="464.5" y2="220.80" stroke="#777" stroke-width="0.9"/><line x1="453.5" y1="217.27" x2="459.0" y2="217.27" stroke="#777" stroke-width="0.9"/><line x1="453.5" y1="213.73" x2="459.0" y2="213.73" stroke="#777" stroke-width="0.9"/><line x1="453.5" y1="210.20" x2="464.5" y2="210.20" stroke="#777" stroke-width="0.9"/><line x1="453.5" y1="206.67" x2="459.0" y2="206.67" stroke="#777" stroke-width="0.9"/><line x1="453.5" y1="203.13" x2="459.0" y2="203.13" stroke="#777" stroke-width="0.9"/><line x1="453.5" y1="199.60" x2="464.5" y2="199.60" stroke="#777" stroke-width="0.9"/><line x1="453.5" y1="196.07" x2="459.0" y2="196.07" stroke="#777" stroke-width="0.9"/><line x1="453.5" y1="192.53" x2="459.0" y2="192.53" stroke="#777" stroke-width="0.9"/><line x1="453.5" y1="189.00" x2="464.5" y2="189.00" stroke="#777" stroke-width="0.9"/><line x1="453.5" y1="185.47" x2="459.0" y2="185.47" stroke="#777" stroke-width="0.9"/><line x1="453.5" y1="181.93" x2="459.0" y2="181.93" stroke="#777" stroke-width="0.9"/><line x1="453.5" y1="178.40" x2="464.5" y2="178.40" stroke="#777" stroke-width="0.9"/><line x1="453.5" y1="174.87" x2="459.0" y2="174.87" stroke="#777" stroke-width="0.9"/><line x1="453.5" y1="171.33" x2="459.0" y2="171.33" stroke="#777" stroke-width="0.9"/><line x1="453.5" y1="167.80" x2="464.5" y2="167.80" stroke="#777" stroke-width="0.9"/><line x1="453.5" y1="164.27" x2="459.0" y2="164.27" stroke="#777" stroke-width="0.9"/><line x1="453.5" y1="160.73" x2="459.0" y2="160.73" stroke="#777" stroke-width="0.9"/><line x1="453.5" y1="157.20" x2="464.5" y2="157.20" stroke="#777" stroke-width="0.9"/><line x1="453.5" y1="153.67" x2="459.0" y2="153.67" stroke="#777" stroke-width="0.9"/><line x1="453.5" y1="150.13" x2="459.0" y2="150.13" stroke="#777" stroke-width="0.9"/><line x1="453.5" y1="146.60" x2="464.5" y2="146.60" stroke="#777" stroke-width="0.9"/><line x1="453.5" y1="143.07" x2="459.0" y2="143.07" stroke="#777" stroke-width="0.9"/><line x1="453.5" y1="139.53" x2="459.0" y2="139.53" stroke="#777" stroke-width="0.9"/><line x1="453.5" y1="136.00" x2="464.5" y2="136.00" stroke="#777" stroke-width="0.9"/><line x1="453.5" y1="132.47" x2="459.0" y2="132.47" stroke="#777" stroke-width="0.9"/><line x1="453.5" y1="128.93" x2="459.0" y2="128.93" stroke="#777" stroke-width="0.9"/><line x1="453.5" y1="125.40" x2="464.5" y2="125.40" stroke="#777" stroke-width="0.9"/><line x1="453.5" y1="121.87" x2="459.0" y2="121.87" stroke="#777" stroke-width="0.9"/><line x1="453.5" y1="118.33" x2="459.0" y2="118.33" stroke="#777" stroke-width="0.9"/><line x1="453.5" y1="114.80" x2="464.5" y2="114.80" stroke="#777" stroke-width="0.9"/><line x1="453.5" y1="111.27" x2="459.0" y2="111.27" stroke="#777" stroke-width="0.9"/><line x1="453.5" y1="107.73" x2="459.0" y2="107.73" stroke="#777" stroke-width="0.9"/><line x1="453.5" y1="104.20" x2="464.5" y2="104.20" stroke="#777" stroke-width="0.9"/><line x1="453.5" y1="100.67" x2="459.0" y2="100.67" stroke="#777" stroke-width="0.9"/><line x1="453.5" y1="97.13" x2="459.0" y2="97.13" stroke="#777" stroke-width="0.9"/><line x1="453.5" y1="93.60" x2="464.5" y2="93.60" stroke="#777" stroke-width="0.9"/><line x1="453.5" y1="90.07" x2="459.0" y2="90.07" stroke="#777" stroke-width="0.9"/><line x1="453.5" y1="86.53" x2="459.0" y2="86.53" stroke="#777" stroke-width="0.9"/><line x1="453.5" y1="83.00" x2="464.5" y2="83.00" stroke="#777" stroke-width="0.9"/><line x1="453.5" y1="79.47" x2="459.0" y2="79.47" stroke="#777" stroke-width="0.9"/><line x1="453.5" y1="75.93" x2="459.0" y2="75.93" stroke="#777" stroke-width="0.9"/><line x1="453.5" y1="72.40" x2="464.5" y2="72.40" stroke="#777" stroke-width="0.9"/><line x1="453.5" y1="68.87" x2="459.0" y2="68.87" stroke="#777" stroke-width="0.9"/><line x1="453.5" y1="65.33" x2="459.0" y2="65.33" stroke="#777" stroke-width="0.9"/><line x1="453.5" y1="61.80" x2="464.5" y2="61.80" stroke="#777" stroke-width="0.9"/><line x1="453.5" y1="58.27" x2="459.0" y2="58.27" stroke="#777" stroke-width="0.9"/><line x1="453.5" y1="54.73" x2="459.0" y2="54.73" stroke="#777" stroke-width="0.9"/><line x1="453.5" y1="51.20" x2="464.5" y2="51.20" stroke="#777" stroke-width="0.9"/><line x1="685.3" y1="284.40" x2="696.3" y2="284.40" stroke="#777" stroke-width="0.9"/><line x1="685.3" y1="280.87" x2="690.8" y2="280.87" stroke="#777" stroke-width="0.9"/><line x1="685.3" y1="277.33" x2="690.8" y2="277.33" stroke="#777" stroke-width="0.9"/><line x1="685.3" y1="273.80" x2="696.3" y2="273.80" stroke="#777" stroke-width="0.9"/><line x1="685.3" y1="270.27" x2="690.8" y2="270.27" stroke="#777" stroke-width="0.9"/><line x1="685.3" y1="266.73" x2="690.8" y2="266.73" stroke="#777" stroke-width="0.9"/><line x1="685.3" y1="263.20" x2="696.3" y2="263.20" stroke="#777" stroke-width="0.9"/><line x1="685.3" y1="259.67" x2="690.8" y2="259.67" stroke="#777" stroke-width="0.9"/><line x1="685.3" y1="256.13" x2="690.8" y2="256.13" stroke="#777" stroke-width="0.9"/><line x1="685.3" y1="252.60" x2="696.3" y2="252.60" stroke="#777" stroke-width="0.9"/><line x1="685.3" y1="249.07" x2="690.8" y2="249.07" stroke="#777" stroke-width="0.9"/><line x1="685.3" y1="245.53" x2="690.8" y2="245.53" stroke="#777" stroke-width="0.9"/><line x1="685.3" y1="242.00" x2="696.3" y2="242.00" stroke="#777" stroke-width="0.9"/><line x1="685.3" y1="238.47" x2="690.8" y2="238.47" stroke="#777" stroke-width="0.9"/><line x1="685.3" y1="234.93" x2="690.8" y2="234.93" stroke="#777" stroke-width="0.9"/><line x1="685.3" y1="231.40" x2="696.3" y2="231.40" stroke="#777" stroke-width="0.9"/><line x1="685.3" y1="227.87" x2="690.8" y2="227.87" stroke="#777" stroke-width="0.9"/><line x1="685.3" y1="224.33" x2="690.8" y2="224.33" stroke="#777" stroke-width="0.9"/><line x1="685.3" y1="220.80" x2="696.3" y2="220.80" stroke="#777" stroke-width="0.9"/><line x1="685.3" y1="217.27" x2="690.8" y2="217.27" stroke="#777" stroke-width="0.9"/><line x1="685.3" y1="213.73" x2="690.8" y2="213.73" stroke="#777" stroke-width="0.9"/><line x1="685.3" y1="210.20" x2="696.3" y2="210.20" stroke="#777" stroke-width="0.9"/><line x1="685.3" y1="206.67" x2="690.8" y2="206.67" stroke="#777" stroke-width="0.9"/><line x1="685.3" y1="203.13" x2="690.8" y2="203.13" stroke="#777" stroke-width="0.9"/><line x1="685.3" y1="199.60" x2="696.3" y2="199.60" stroke="#777" stroke-width="0.9"/><line x1="685.3" y1="196.07" x2="690.8" y2="196.07" stroke="#777" stroke-width="0.9"/><line x1="685.3" y1="192.53" x2="690.8" y2="192.53" stroke="#777" stroke-width="0.9"/><line x1="685.3" y1="189.00" x2="696.3" y2="189.00" stroke="#777" stroke-width="0.9"/><line x1="685.3" y1="185.47" x2="690.8" y2="185.47" stroke="#777" stroke-width="0.9"/><line x1="685.3" y1="181.93" x2="690.8" y2="181.93" stroke="#777" stroke-width="0.9"/><line x1="685.3" y1="178.40" x2="696.3" y2="178.40" stroke="#777" stroke-width="0.9"/><line x1="685.3" y1="174.87" x2="690.8" y2="174.87" stroke="#777" stroke-width="0.9"/><line x1="685.3" y1="171.33" x2="690.8" y2="171.33" stroke="#777" stroke-width="0.9"/><line x1="685.3" y1="167.80" x2="696.3" y2="167.80" stroke="#777" stroke-width="0.9"/><line x1="685.3" y1="164.27" x2="690.8" y2="164.27" stroke="#777" stroke-width="0.9"/><line x1="685.3" y1="160.73" x2="690.8" y2="160.73" stroke="#777" stroke-width="0.9"/><line x1="685.3" y1="157.20" x2="696.3" y2="157.20" stroke="#777" stroke-width="0.9"/><line x1="685.3" y1="153.67" x2="690.8" y2="153.67" stroke="#777" stroke-width="0.9"/><line x1="685.3" y1="150.13" x2="690.8" y2="150.13" stroke="#777" stroke-width="0.9"/><line x1="685.3" y1="146.60" x2="696.3" y2="146.60" stroke="#777" stroke-width="0.9"/><line x1="685.3" y1="143.07" x2="690.8" y2="143.07" stroke="#777" stroke-width="0.9"/><line x1="685.3" y1="139.53" x2="690.8" y2="139.53" stroke="#777" stroke-width="0.9"/><line x1="685.3" y1="136.00" x2="696.3" y2="136.00" stroke="#777" stroke-width="0.9"/><line x1="685.3" y1="132.47" x2="690.8" y2="132.47" stroke="#777" stroke-width="0.9"/><line x1="685.3" y1="128.93" x2="690.8" y2="128.93" stroke="#777" stroke-width="0.9"/><line x1="685.3" y1="125.40" x2="696.3" y2="125.40" stroke="#777" stroke-width="0.9"/><line x1="685.3" y1="121.87" x2="690.8" y2="121.87" stroke="#777" stroke-width="0.9"/><line x1="685.3" y1="118.33" x2="690.8" y2="118.33" stroke="#777" stroke-width="0.9"/><line x1="685.3" y1="114.80" x2="696.3" y2="114.80" stroke="#777" stroke-width="0.9"/><line x1="685.3" y1="111.27" x2="690.8" y2="111.27" stroke="#777" stroke-width="0.9"/><line x1="685.3" y1="107.73" x2="690.8" y2="107.73" stroke="#777" stroke-width="0.9"/><line x1="685.3" y1="104.20" x2="696.3" y2="104.20" stroke="#777" stroke-width="0.9"/><line x1="685.3" y1="100.67" x2="690.8" y2="100.67" stroke="#777" stroke-width="0.9"/><line x1="685.3" y1="97.13" x2="690.8" y2="97.13" stroke="#777" stroke-width="0.9"/><line x1="685.3" y1="93.60" x2="696.3" y2="93.60" stroke="#777" stroke-width="0.9"/><line x1="685.3" y1="90.07" x2="690.8" y2="90.07" stroke="#777" stroke-width="0.9"/><line x1="685.3" y1="86.53" x2="690.8" y2="86.53" stroke="#777" stroke-width="0.9"/><line x1="685.3" y1="83.00" x2="696.3" y2="83.00" stroke="#777" stroke-width="0.9"/><line x1="685.3" y1="79.47" x2="690.8" y2="79.47" stroke="#777" stroke-width="0.9"/><line x1="685.3" y1="75.93" x2="690.8" y2="75.93" stroke="#777" stroke-width="0.9"/><line x1="685.3" y1="72.40" x2="696.3" y2="72.40" stroke="#777" stroke-width="0.9"/><line x1="685.3" y1="68.87" x2="690.8" y2="68.87" stroke="#777" stroke-width="0.9"/><line x1="685.3" y1="65.33" x2="690.8" y2="65.33" stroke="#777" stroke-width="0.9"/><line x1="685.3" y1="61.80" x2="696.3" y2="61.80" stroke="#777" stroke-width="0.9"/><line x1="685.3" y1="58.27" x2="690.8" y2="58.27" stroke="#777" stroke-width="0.9"/><line x1="685.3" y1="54.73" x2="690.8" y2="54.73" stroke="#777" stroke-width="0.9"/><line x1="685.3" y1="51.20" x2="696.3" y2="51.20" stroke="#777" stroke-width="0.9"/><line x1="685.3" y1="47.67" x2="690.8" y2="47.67" stroke="#777" stroke-width="0.9"/><line x1="685.3" y1="44.13" x2="690.8" y2="44.13" stroke="#777" stroke-width="0.9"/><line x1="685.3" y1="40.60" x2="696.3" y2="40.60" stroke="#777" stroke-width="0.9"/><line x1="685.3" y1="37.07" x2="690.8" y2="37.07" stroke="#777" stroke-width="0.9"/><line x1="685.3" y1="33.53" x2="690.8" y2="33.53" stroke="#777" stroke-width="0.9"/><line x1="685.3" y1="30.00" x2="696.3" y2="30.00" stroke="#777" stroke-width="0.9"/><line x1="685.3" y1="26.47" x2="690.8" y2="26.47" stroke="#777" stroke-width="0.9"/><line x1="685.3" y1="22.93" x2="690.8" y2="22.93" stroke="#777" stroke-width="0.9"/><line x1="685.3" y1="19.40" x2="696.3" y2="19.40" stroke="#777" stroke-width="0.9"/><line x1="685.3" y1="15.87" x2="690.8" y2="15.87" stroke="#777" stroke-width="0.9"/><line x1="685.3" y1="12.33" x2="690.8" y2="12.33" stroke="#777" stroke-width="0.9"/><line x1="685.3" y1="8.80" x2="696.3" y2="8.80" stroke="#777" stroke-width="0.9"/><line x1="61.25" y1="69" x2="61.25" y2="262" stroke="#FFF6EE" stroke-width="1.1" stroke-dasharray="4.3 3.0"/><line x1="115.5" y1="69" x2="115.5" y2="262" stroke="#FFF6EE" stroke-width="1.1" stroke-dasharray="4.3 3.0"/><line x1="169.75" y1="69" x2="169.75" y2="262" stroke="#FFF6EE" stroke-width="1.1" stroke-dasharray="4.3 3.0"/><line x1="291.125" y1="51" x2="291.125" y2="263.75" stroke="#FFF6EE" stroke-width="1.1" stroke-dasharray="4.3 3.0"/><line x1="345.25" y1="51" x2="345.25" y2="263.75" stroke="#FFF6EE" stroke-width="1.1" stroke-dasharray="4.3 3.0"/><line x1="399.375" y1="51" x2="399.375" y2="263.75" stroke="#FFF6EE" stroke-width="1.1" stroke-dasharray="4.3 3.0"/><line x1="523.075" y1="8.8" x2="523.075" y2="284.8" stroke="#FFF6EE" stroke-width="1.1" stroke-dasharray="4.3 3.0"/><line x1="577.15" y1="8.8" x2="577.15" y2="284.8" stroke="#FFF6EE" stroke-width="1.1" stroke-dasharray="4.3 3.0"/><line x1="631.2249999999999" y1="8.8" x2="631.2249999999999" y2="284.8" stroke="#FFF6EE" stroke-width="1.1" stroke-dasharray="4.3 3.0"/><line x1="7" y1="83.0" x2="224" y2="83.0" stroke="#FFF6EE" stroke-width="1.3" stroke-dasharray="4.2 3.2"/><line x1="7" y1="136.0" x2="224" y2="136.0" stroke="#FFF6EE" stroke-width="1.3" stroke-dasharray="4.2 3.2"/><line x1="7" y1="189.0" x2="224" y2="189.0" stroke="#FFF6EE" stroke-width="1.3" stroke-dasharray="4.2 3.2"/><line x1="7" y1="242.0" x2="224" y2="242.0" stroke="#FFF6EE" stroke-width="1.3" stroke-dasharray="4.2 3.2"/><line x1="237" y1="136.0" x2="453.5" y2="136.0" stroke="#FFF6EE" stroke-width="1.3" stroke-dasharray="4.2 3.2"/><line x1="237" y1="189.0" x2="453.5" y2="189.0" stroke="#FFF6EE" stroke-width="1.3" stroke-dasharray="4.2 3.2"/><line x1="237" y1="242.0" x2="453.5" y2="242.0" stroke="#FFF6EE" stroke-width="1.3" stroke-dasharray="4.2 3.2"/><line x1="237" y1="83.0" x2="453.5" y2="83.0" stroke="#FFF6EE" stroke-width="1.3" stroke-dasharray="4.2 3.2"/><line x1="469" y1="30.3" x2="697" y2="30.3" stroke="#FF3A10" stroke-width="1.5" stroke-dasharray="4.3 3.15"/><line x1="469" y1="83.3" x2="697" y2="83.3" stroke="#FF3A10" stroke-width="1.5" stroke-dasharray="4.3 3.15"/><line x1="469" y1="136.3" x2="697" y2="136.3" stroke="#FF3A10" stroke-width="1.5" stroke-dasharray="4.3 3.15"/><line x1="469" y1="189.3" x2="697" y2="189.3" stroke="#FF3A10" stroke-width="1.5" stroke-dasharray="4.3 3.15"/><line x1="469" y1="242.3" x2="697" y2="242.3" stroke="#FF3A10" stroke-width="1.5" stroke-dasharray="4.3 3.15"/><rect x="7" y="264.5" width="217" height="11.199999999999989" fill="#060606"/><rect x="7.00" y="264.5" width="1.50" height="11.199999999999989" fill="#1E88CF"/><rect x="16.20" y="264.5" width="2.80" height="11.199999999999989" fill="#C8C8C8"/><rect x="27.00" y="264.5" width="2.80" height="11.199999999999989" fill="#C8C8C8"/><rect x="37.80" y="264.5" width="2.80" height="11.199999999999989" fill="#C8C8C8"/><rect x="48.60" y="264.5" width="2.80" height="11.199999999999989" fill="#C8C8C8"/><rect x="59.40" y="264.5" width="2.80" height="11.199999999999989" fill="#C8C8C8"/><rect x="70.20" y="264.5" width="2.80" height="11.199999999999989" fill="#C8C8C8"/><rect x="81.00" y="264.5" width="2.80" height="11.199999999999989" fill="#C8C8C8"/><rect x="91.80" y="264.5" width="2.80" height="11.199999999999989" fill="#C8C8C8"/><rect x="102.60" y="264.5" width="2.80" height="11.199999999999989" fill="#C8C8C8"/><rect x="113.10" y="264.5" width="3.40" height="11.199999999999989" fill="#1E88CF"/><rect x="124.20" y="264.5" width="2.80" height="11.199999999999989" fill="#C8C8C8"/><rect x="135.00" y="264.5" width="2.80" height="11.199999999999989" fill="#C8C8C8"/><rect x="145.80" y="264.5" width="2.80" height="11.199999999999989" fill="#C8C8C8"/><rect x="156.60" y="264.5" width="2.80" height="11.199999999999989" fill="#C8C8C8"/><rect x="167.40" y="264.5" width="2.80" height="11.199999999999989" fill="#C8C8C8"/><rect x="178.20" y="264.5" width="2.80" height="11.199999999999989" fill="#C8C8C8"/><rect x="189.00" y="264.5" width="2.80" height="11.199999999999989" fill="#C8C8C8"/><rect x="199.80" y="264.5" width="2.80" height="11.199999999999989" fill="#C8C8C8"/><rect x="210.60" y="264.5" width="2.80" height="11.199999999999989" fill="#C8C8C8"/><rect x="221.10" y="264.5" width="2.90" height="11.199999999999989" fill="#1E88CF"/><rect x="237" y="265.8" width="216.5" height="10.899999999999977" fill="#060606"/><rect x="237.00" y="265.8" width="1.50" height="10.899999999999977" fill="#1E88CF"/><rect x="246.20" y="265.8" width="2.80" height="10.899999999999977" fill="#C8C8C8"/><rect x="257.00" y="265.8" width="2.80" height="10.899999999999977" fill="#C8C8C8"/><rect x="267.80" y="265.8" width="2.80" height="10.899999999999977" fill="#C8C8C8"/><rect x="278.60" y="265.8" width="2.80" height="10.899999999999977" fill="#C8C8C8"/><rect x="289.40" y="265.8" width="2.80" height="10.899999999999977" fill="#C8C8C8"/><rect x="300.20" y="265.8" width="2.80" height="10.899999999999977" fill="#C8C8C8"/><rect x="311.00" y="265.8" width="2.80" height="10.899999999999977" fill="#C8C8C8"/><rect x="321.80" y="265.8" width="2.80" height="10.899999999999977" fill="#C8C8C8"/><rect x="332.60" y="265.8" width="2.80" height="10.899999999999977" fill="#C8C8C8"/><rect x="343.10" y="265.8" width="3.40" height="10.899999999999977" fill="#1E88CF"/><rect x="354.20" y="265.8" width="2.80" height="10.899999999999977" fill="#C8C8C8"/><rect x="365.00" y="265.8" width="2.80" height="10.899999999999977" fill="#C8C8C8"/><rect x="375.80" y="265.8" width="2.80" height="10.899999999999977" fill="#C8C8C8"/><rect x="386.60" y="265.8" width="2.80" height="10.899999999999977" fill="#C8C8C8"/><rect x="397.40" y="265.8" width="2.80" height="10.899999999999977" fill="#C8C8C8"/><rect x="408.20" y="265.8" width="2.80" height="10.899999999999977" fill="#C8C8C8"/><rect x="419.00" y="265.8" width="2.80" height="10.899999999999977" fill="#C8C8C8"/><rect x="429.80" y="265.8" width="2.80" height="10.899999999999977" fill="#C8C8C8"/><rect x="440.60" y="265.8" width="2.80" height="10.899999999999977" fill="#C8C8C8"/><rect x="451.10" y="265.8" width="2.40" height="10.899999999999977" fill="#1E88CF"/><rect x="469" y="286.7" width="216.29999999999995" height="10.699999999999989" fill="#060606"/><rect x="469.00" y="286.7" width="1.50" height="10.699999999999989" fill="#1E88CF"/><rect x="478.20" y="286.7" width="2.80" height="10.699999999999989" fill="#C8C8C8"/><rect x="489.00" y="286.7" width="2.80" height="10.699999999999989" fill="#C8C8C8"/><rect x="499.80" y="286.7" width="2.80" height="10.699999999999989" fill="#C8C8C8"/><rect x="510.60" y="286.7" width="2.80" height="10.699999999999989" fill="#C8C8C8"/><rect x="521.40" y="286.7" width="2.80" height="10.699999999999989" fill="#C8C8C8"/><rect x="532.20" y="286.7" width="2.80" height="10.699999999999989" fill="#C8C8C8"/><rect x="543.00" y="286.7" width="2.80" height="10.699999999999989" fill="#C8C8C8"/><rect x="553.80" y="286.7" width="2.80" height="10.699999999999989" fill="#C8C8C8"/><rect x="564.60" y="286.7" width="2.80" height="10.699999999999989" fill="#C8C8C8"/><rect x="575.10" y="286.7" width="3.40" height="10.699999999999989" fill="#1E88CF"/><rect x="586.20" y="286.7" width="2.80" height="10.699999999999989" fill="#C8C8C8"/><rect x="597.00" y="286.7" width="2.80" height="10.699999999999989" fill="#C8C8C8"/><rect x="607.80" y="286.7" width="2.80" height="10.699999999999989" fill="#C8C8C8"/><rect x="618.60" y="286.7" width="2.80" height="10.699999999999989" fill="#C8C8C8"/><rect x="629.40" y="286.7" width="2.80" height="10.699999999999989" fill="#C8C8C8"/><rect x="640.20" y="286.7" width="2.80" height="10.699999999999989" fill="#C8C8C8"/><rect x="651.00" y="286.7" width="2.80" height="10.699999999999989" fill="#C8C8C8"/><rect x="661.80" y="286.7" width="2.80" height="10.699999999999989" fill="#C8C8C8"/><rect x="672.60" y="286.7" width="2.80" height="10.699999999999989" fill="#C8C8C8"/><rect x="683.10" y="286.7" width="2.20" height="10.699999999999989" fill="#1E88CF"/><path d="M126.20,157.50 L144.30,157.50 L144.30,151.10 L156.70,163.70 L144.30,176.50 L144.30,169.80 L126.20,169.80 Z" fill="none" stroke="#fff" stroke-width="2" stroke-linejoin="miter"/><path d="M355.30,156.00 L373.50,156.00 L373.50,149.30 L386.00,162.20 L373.50,175.00 L373.50,167.80 L355.30,167.80 Z" fill="none" stroke="#fff" stroke-width="2" stroke-linejoin="miter"/><path d="M480.40,154.00 L498.80,154.00 L498.80,148.00 L511.40,160.20 L498.80,172.80 L498.80,166.40 L480.40,166.40 Z" fill="none" stroke="#fff" stroke-width="2" stroke-linejoin="miter"/><text x="8" y="27" font-size="15" text-anchor="start" font-weight="bold" fill="#000" stroke="#000" stroke-width="0.35" >(a) Cider</text><text x="240.4" y="26.7" font-size="15" text-anchor="start" font-weight="bold" fill="#000" stroke="#000" stroke-width="0.35" >(b)</text><text x="272" y="26.7" font-size="15" text-anchor="start" font-weight="bold" fill="#000" stroke="#000" stroke-width="0.35" >Refreshment Drink</text><text x="471" y="26.6" font-size="15" text-anchor="start" font-weight="bold" fill="#000" stroke="#000" stroke-width="0.35" >(c) Apple Vinegar</text><text x="212.1" y="79.4" font-size="13.4" text-anchor="middle" font-weight="normal" fill="#fff" >15s</text><text x="211.4" y="132.8" font-size="13.4" text-anchor="middle" font-weight="normal" fill="#000" stroke="#000" stroke-width="0.35" >10s</text><text x="213.2" y="186.5" font-size="13.4" text-anchor="middle" font-weight="normal" fill="#000" stroke="#000" stroke-width="0.35" >5s</text><text x="213.4" y="240.3" font-size="13.4" text-anchor="middle" font-weight="normal" fill="#000" stroke="#000" stroke-width="0.35" >0s</text><text x="439.6" y="79.2" font-size="13.4" text-anchor="middle" font-weight="normal" fill="#fff" >15s</text><text x="439.8" y="132.5" font-size="13.4" text-anchor="middle" font-weight="normal" fill="#000" stroke="#000" stroke-width="0.35" >10s</text><text x="441.5" y="185.6" font-size="13.4" text-anchor="middle" font-weight="normal" fill="#000" stroke="#000" stroke-width="0.35" >5s</text><text x="441.6" y="239.8" font-size="13.4" text-anchor="middle" font-weight="normal" fill="#000" stroke="#000" stroke-width="0.35" >0s</text><text x="711.5" y="16.4" font-size="12.6" text-anchor="middle" font-weight="normal" fill="#000" stroke="#000" stroke-width="0.35" >22s</text><text x="711.5" y="27.03" font-size="12.6" text-anchor="middle" font-weight="normal" fill="#000" stroke="#000" stroke-width="0.35" >21s</text><text x="711.5" y="37.66" font-size="12.6" text-anchor="middle" font-weight="normal" fill="#F00" stroke="#F00" stroke-width="0.35" >20s</text><text x="711.5" y="48.29" font-size="12.6" text-anchor="middle" font-weight="normal" fill="#000" stroke="#000" stroke-width="0.35" >19s</text><text x="711.5" y="58.92" font-size="12.6" text-anchor="middle" font-weight="normal" fill="#000" stroke="#000" stroke-width="0.35" >18s</text><text x="711.5" y="69.55000000000001" font-size="12.6" text-anchor="middle" font-weight="normal" fill="#000" stroke="#000" stroke-width="0.35" >17s</text><text x="711.5" y="80.18" font-size="12.6" text-anchor="middle" font-weight="normal" fill="#000" stroke="#000" stroke-width="0.35" >16s</text><text x="711.5" y="90.81" font-size="12.6" text-anchor="middle" font-weight="normal" fill="#F00" stroke="#F00" stroke-width="0.35" >15s</text><text x="711.5" y="101.44" font-size="12.6" text-anchor="middle" font-weight="normal" fill="#000" stroke="#000" stroke-width="0.35" >14s</text><text x="711.5" y="112.07" font-size="12.6" text-anchor="middle" font-weight="normal" fill="#000" stroke="#000" stroke-width="0.35" >13s</text><text x="711.5" y="122.70000000000002" font-size="12.6" text-anchor="middle" font-weight="normal" fill="#000" stroke="#000" stroke-width="0.35" >12s</text><text x="711.5" y="133.33" font-size="12.6" text-anchor="middle" font-weight="normal" fill="#000" stroke="#000" stroke-width="0.35" >11s</text><text x="711.5" y="143.96" font-size="12.6" text-anchor="middle" font-weight="normal" fill="#F00" stroke="#F00" stroke-width="0.35" >10s</text><text x="711.5" y="154.59" font-size="12.6" text-anchor="middle" font-weight="normal" fill="#000" stroke="#000" stroke-width="0.35" >9s</text><text x="711.5" y="165.22000000000003" font-size="12.6" text-anchor="middle" font-weight="normal" fill="#000" stroke="#000" stroke-width="0.35" >8s</text><text x="711.5" y="175.85000000000002" font-size="12.6" text-anchor="middle" font-weight="normal" fill="#000" stroke="#000" stroke-width="0.35" >7s</text><text x="711.5" y="186.48000000000002" font-size="12.6" text-anchor="middle" font-weight="normal" fill="#000" stroke="#000" stroke-width="0.35" >6s</text><text x="711.5" y="197.11" font-size="12.6" text-anchor="middle" font-weight="normal" fill="#F00" stroke="#F00" stroke-width="0.35" >5s</text><text x="711.5" y="207.74" font-size="12.6" text-anchor="middle" font-weight="normal" fill="#000" stroke="#000" stroke-width="0.35" >4s</text><text x="711.5" y="218.37000000000003" font-size="12.6" text-anchor="middle" font-weight="normal" fill="#000" stroke="#000" stroke-width="0.35" >3s</text><text x="711.5" y="229.00000000000003" font-size="12.6" text-anchor="middle" font-weight="normal" fill="#000" stroke="#000" stroke-width="0.35" >2s</text><text x="711.5" y="239.63000000000002" font-size="12.6" text-anchor="middle" font-weight="normal" fill="#000" stroke="#000" stroke-width="0.35" >1s</text><text x="711.5" y="250.26000000000002" font-size="12.6" text-anchor="middle" font-weight="normal" fill="#F00" stroke="#F00" stroke-width="0.35" >0s</text><text x="711.5" y="260.89" font-size="12.6" text-anchor="middle" font-weight="normal" fill="#000" stroke="#000" stroke-width="0.35" >-1s</text><text x="711.5" y="271.52" font-size="12.6" text-anchor="middle" font-weight="normal" fill="#000" stroke="#000" stroke-width="0.35" >-2s</text><text x="711.5" y="282.15" font-size="12.6" text-anchor="middle" font-weight="normal" fill="#000" stroke="#000" stroke-width="0.35" >-3s</text><text x="711.5" y="292.78" font-size="12.6" text-anchor="middle" font-weight="normal" fill="#000" stroke="#000" stroke-width="0.35" >-4s</text><text x="8.8" y="292.7" font-size="13.6" text-anchor="middle" font-weight="normal" fill="#000" stroke="#000" stroke-width="0.35" >0</text><text x="62.5" y="292.7" font-size="13.6" text-anchor="middle" font-weight="normal" fill="#000" stroke="#000" stroke-width="0.35" >5</text><text x="118.7" y="292.7" font-size="13.6" text-anchor="middle" font-weight="normal" fill="#000" stroke="#000" stroke-width="0.35" >10</text><text x="172.9" y="292.7" font-size="13.6" text-anchor="middle" font-weight="normal" fill="#000" stroke="#000" stroke-width="0.35" >15</text><text x="224.6" y="292.7" font-size="13.6" text-anchor="middle" font-weight="normal" fill="#000" stroke="#000" stroke-width="0.35" >20</text><text x="240.25" y="292.8" font-size="13.6" text-anchor="middle" font-weight="normal" fill="#000" stroke="#000" stroke-width="0.35" >0</text><text x="293.2" y="292.8" font-size="13.6" text-anchor="middle" font-weight="normal" fill="#000" stroke="#000" stroke-width="0.35" >5</text><text x="350" y="292.8" font-size="13.6" text-anchor="middle" font-weight="normal" fill="#000" stroke="#000" stroke-width="0.35" >10</text><text x="403.7" y="292.8" font-size="13.6" text-anchor="middle" font-weight="normal" fill="#000" stroke="#000" stroke-width="0.35" >15</text><text x="454.8" y="292.8" font-size="13.6" text-anchor="middle" font-weight="normal" fill="#000" stroke="#000" stroke-width="0.35" >20</text><text x="471" y="313.6" font-size="13.6" text-anchor="middle" font-weight="normal" fill="#000" stroke="#000" stroke-width="0.35" >0</text><text x="525" y="313.6" font-size="13.6" text-anchor="middle" font-weight="normal" fill="#000" stroke="#000" stroke-width="0.35" >5</text><text x="582.8" y="313.6" font-size="13.6" text-anchor="middle" font-weight="normal" fill="#000" stroke="#000" stroke-width="0.35" >10</text><text x="635.5" y="313.6" font-size="13.6" text-anchor="middle" font-weight="normal" fill="#000" stroke="#000" stroke-width="0.35" >15</text><text x="686" y="313.6" font-size="13.6" text-anchor="middle" font-weight="normal" fill="#000" stroke="#000" stroke-width="0.35" >20</text><text x="126.7" y="305.8" font-size="13" text-anchor="middle" font-weight="bold" fill="#000" stroke="#000" stroke-width="0.35" >Distance (mm)</text><text x="356" y="306" font-size="13" text-anchor="middle" font-weight="bold" fill="#000" stroke="#000" stroke-width="0.35" >Distance (mm)</text><text x="588.2" y="324.5" font-size="13" text-anchor="middle" font-weight="bold" fill="#000" stroke="#000" stroke-width="0.35" >Distance (mm)</text></svg></body></html>
